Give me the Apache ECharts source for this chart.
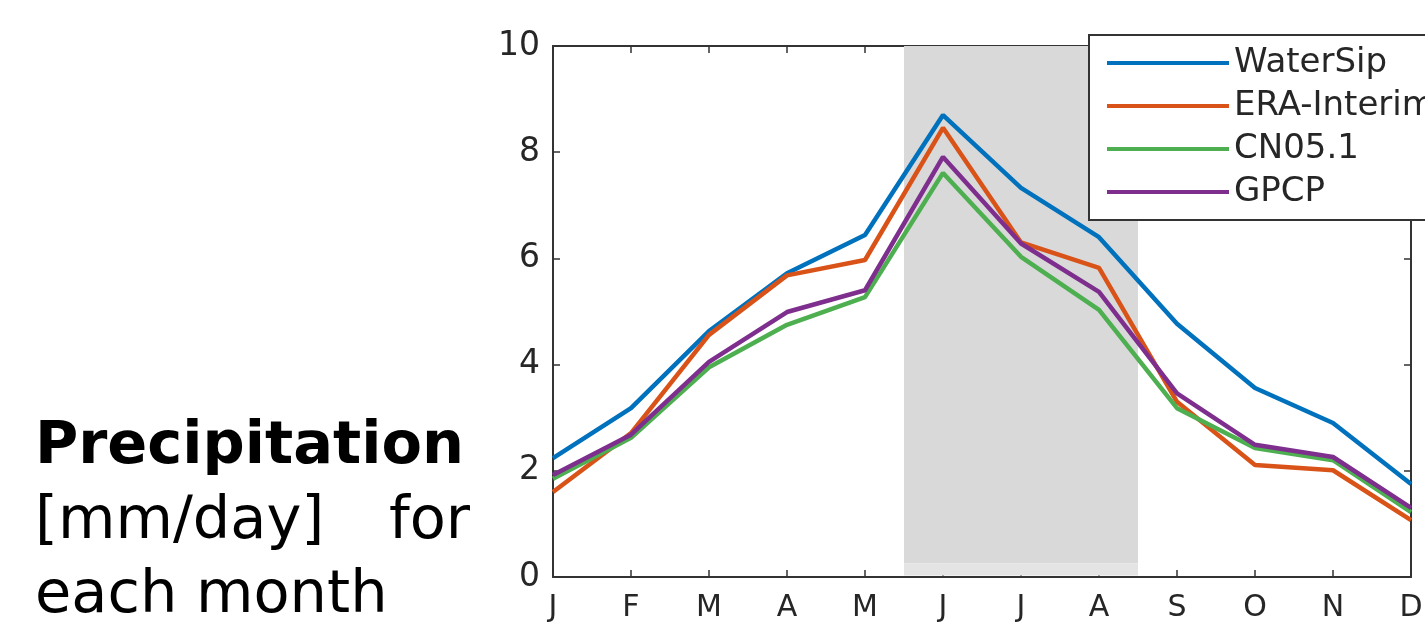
<!DOCTYPE html>
<html>
<head>
<meta charset="utf-8"/>
<title>Precipitation</title>
<script type="text/javascript" src="https://cdn.jsdelivr.net/npm/echarts@6/dist/echarts.min.js"></script>
<style type="text/css">
	body{
		margin: 0px;
		padding: 0px;
		background-color: #fff;
	}
	#main{
		width: 1425px;
		height: 631px;
	}
</style>
</head>
<body>
	<div id="main"></div>
<script type="text/javascript">
	// 月份
	var months = ['J','F','M','A','M','J','J','A','S','O','N','D'];
	// 各数据集 [mm/day]
	var waterSip   = [2.24, 3.18, 4.63, 5.72, 6.44, 8.70, 7.33, 6.40, 4.77, 3.56, 2.90, 1.75];
	var eraInterim = [1.60, 2.71, 4.56, 5.68, 5.97, 8.46, 6.30, 5.82, 3.30, 2.11, 2.01, 1.07];
	var cn051      = [1.85, 2.62, 3.95, 4.75, 5.27, 7.61, 6.03, 5.03, 3.18, 2.43, 2.20, 1.22];
	var gpcp       = [1.92, 2.68, 4.05, 4.99, 5.40, 7.91, 6.28, 5.37, 3.46, 2.49, 2.26, 1.30];
	var names  = ['WaterSip','ERA-Interim','CN05.1','GPCP'];
	var colors = ['#0072BD','#D95319','#4DAF50','#7E2F8E'];
	// y轴刻度
	var yTicks = [0, 2, 4, 6, 8, 10];
	// 阴影月份范围 (JJA)
	var shadeFrom = 4.5;
	var shadeTo = 7.5;

	var font = 'DejaVu Sans';
	var axisColor = '#333';
	var textColor = '#262626';

	function toPairs(arr){
		var out = [];
		for(var i=0;i<arr.length;i++){
			out.push([i, arr[i]]);
		}
		return out;
	}

	var allData = [waterSip, eraInterim, cn051, gpcp];
	var series = [];
	// 阴影区域
	series.push({
		name: 'shade',
		type: 'line',
		z: 1,
		data: [],
		silent: true,
		markArea: {
			silent: true,
			itemStyle: { color: '#d9d9d9' },
			data: [
				[{ coord: [shadeFrom, 0.26] }, { coord: [shadeTo, yTicks[yTicks.length-1]] }]
			]
		}
	});
	series.push({
		name: 'shade2',
		type: 'line',
		z: 1,
		data: [],
		silent: true,
		markArea: {
			silent: true,
			itemStyle: { color: '#e4e4e4' },
			data: [
				[{ coord: [shadeFrom, 0.03] }, { coord: [shadeTo, 0.26] }]
			]
		}
	});
	for(var k=0;k<names.length;k++){
		series.push({
			name: names[k],
			type: 'line',
			z: 3,
			symbol: 'none',
			color: colors[k],
			lineStyle: { width: 4.5, color: colors[k] },
			data: toPairs(allData[k])
		});
	}

	// 坐标轴公共样式
	function makeAxis(type, pos, showLabel){
		var isX = (pos == 'bottom' || pos == 'top');
		var ax = {
			type: 'value',
			position: pos,
			min: isX ? 0 : yTicks[0],
			max: isX ? months.length - 1 : yTicks[yTicks.length-1],
			interval: isX ? 1 : 2,
			splitLine: { show: false },
			axisLine: { show: true, onZero: false, lineStyle: { color: axisColor, width: 2 } },
			axisTick: { show: true, inside: true, length: 7, lineStyle: { color: axisColor, width: 1.5 } },
			axisLabel: { show: false }
		};
		if(showLabel && isX){
			ax.axisLabel = {
				fontFamily: font,
				fontSize: 30,
				color: textColor,
				margin: 16,
				formatter: function(v){ return months[v]; }
			};
		}else if(showLabel){
			ax.axisLabel = {
				fontFamily: font,
				fontSize: 33,
				color: textColor,
				margin: 13
			};
		}
		return ax;
	}

	var myChart = echarts.init(document.getElementById('main'));
	var option = {
		animation: false,
		textStyle: { fontFamily: font },
		grid: {
			left: 553,
			right: 14,
			top: 46,
			bottom: 54,
			outerBoundsMode: 'none'
		},
		legend: {
			data: names,
			orient: 'vertical',
			left: 1089,
			top: 35,
			padding: [11, 40, 11, 18],
			icon: 'rect',
			itemWidth: 122,
			itemHeight: 4,
			itemGap: 9,
			selectedMode: false,
			backgroundColor: '#fff',
			borderColor: axisColor,
			borderWidth: 2,
			textStyle: {
				fontFamily: font,
				fontSize: 34,
				lineHeight: 34,
				color: textColor
			}
		},
		xAxis: [
			makeAxis('x', 'bottom', true),
			makeAxis('x', 'top', false)
		],
		yAxis: [
			makeAxis('y', 'left', true),
			makeAxis('y', 'right', false)
		],
		graphic: [
			{
				type: 'text',
				left: 35,
				top: 418,
				style: {
					text: 'Precipitation',
					fontFamily: font,
					fontWeight: 'bold',
					fontSize: 59,
					fill: '#000'
				}
			},
			{
				type: 'text',
				left: 35,
				top: 493,
				style: {
					text: '[mm/day]',
					fontFamily: font,
					fontSize: 59,
					fill: '#000'
				}
			},
			{
				type: 'text',
				right: 1425 - 470,
				top: 493,
				style: {
					text: 'for',
					fontFamily: font,
					fontSize: 59,
					fill: '#000'
				}
			},
			{
				type: 'text',
				left: 35,
				top: 567,
				style: {
					text: 'each month',
					fontFamily: font,
					fontSize: 59,
					fill: '#000'
				}
			}
		],
		series: series
	};
	myChart.setOption(option);
</script>
</body>
</html>
